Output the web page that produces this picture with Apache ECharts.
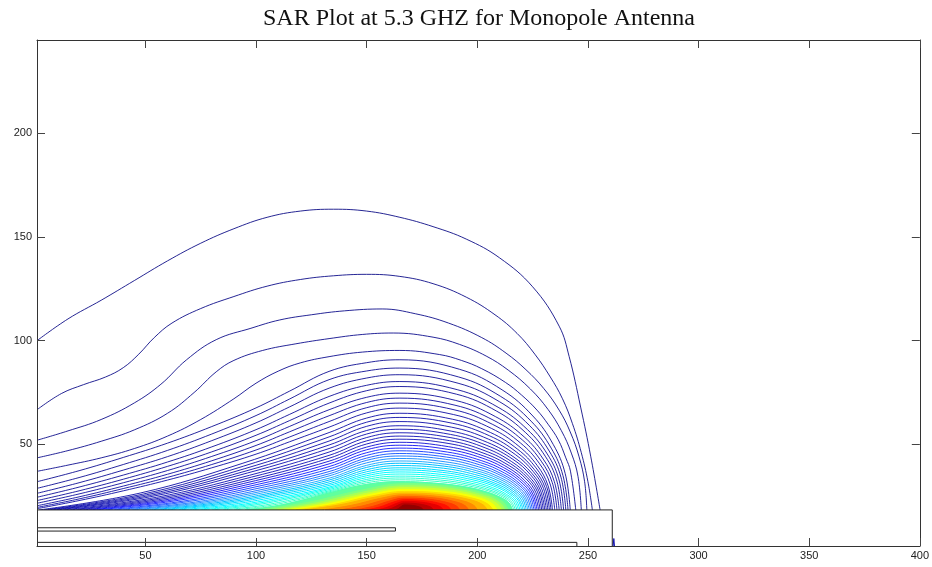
<!DOCTYPE html>
<html><head><meta charset="utf-8">
<script src="https://cdn.jsdelivr.net/npm/echarts@6/dist/echarts.min.js"></script>
<style>html,body{margin:0;padding:0;background:#fff}#chart{width:932px;height:567px}</style>
</head><body><div id="chart"></div>
<script>
const chartTitle = 'SAR Plot at 5.3 GHZ for Monopole Antenna';
const xRange = [1, 400];
const yRange = [1, 245];
const xTickValues = [50, 100, 150, 200, 250, 300, 350, 400];
const yTickValues = [50, 100, 150, 200];

// contour lines, outermost (lowest level) first
const contourLines = [
 [[1,100],[15,110.5],[30,119.5],[45,129],[60,138.5],[75,147],[90,154],[105,159.5],[120,162.5],[135,163.4],[150,162.5],[165,159.5],[180,155],[195,149],[210,140],[225,126],[237,107],[241.5,92.4],[246.7,68],[251.3,44],[255.5,18.4]],
 [[1,66.7],[12,74.5],[22,78.8],[32,82.5],[40,87],[47,93.5],[54,101.5],[62,108.5],[75,115.5],[90,121.3],[105,126.3],[120,129.5],[135,131.3],[150,132],[165,131],[180,127.5],[195,121],[208,112.5],[218,103.5],[226,93.5],[233,82.5],[238.5,72],[243,60],[247,46],[250,32],[252,18.4]],
 [[1,52],[15,56.5],[30,62],[45,70],[57,79],[68.6,90.8],[82,100.5],[97.7,106],[110.7,110],[125,112.5],[140,114.4],[157,115.3],[172,113],[187,108.5],[202,101.5],[213,94],[222,86],[230,77],[237,66.5],[242,56],[246,44],[248.5,32],[249.5,18.4]],
 [[1,43.5],[15,47],[30,51.5],[45,57],[60,65],[72,75],[82,85],[90,90.5],[103,95.3],[118,98.5],[133,101],[148,103],[162,103.7],[180,101.7],[192,98.2],[204,92.6],[214,85.8],[224,76.7],[232,66.8],[238,56.6],[242.5,45.8],[245.5,34.6],[247,18.4]],
 [[1,37],[15,40],[30,43.5],[45,48],[60,54],[75,62],[90,72],[100,79.5],[110,85.3],[120,89.3],[133,92.3],[148,94.5],[165,95.3],[183,93.3],[192.8,90.5],[202,86.5],[212.7,79.9],[220,73.8],[227,66.5],[232,59.7],[236.6,52.2],[240,43.5],[242.1,37.1],[244.5,18.4]],
 [[1,32],[20,37.3],[40,43.7],[60,50.6],[80,58.6],[100,67.6],[115,75.6],[133,85.2],[150,89.4],[165,90.8],[192,86.2],[211.2,76.3],[225.1,63.7],[234.3,50],[239.7,36],[242,18.4]],
 [[1,28.8],[20,34],[40,40.3],[60,47.1],[80,55],[100,63.9],[115,71.8],[133,81.2],[150,85.4],[165,86.8],[191.6,82.5],[210.6,73.1],[224.3,61.2],[233.4,48.2],[238.7,35],[241,18.4]],
 [[1,26.4],[20,31.5],[40,37.6],[60,44.1],[80,51.8],[100,60.4],[115,68],[133,77.1],[150,82],[165,83.6],[191.3,79.5],[210,70.6],[223.5,59.2],[232.5,46.8],[237.8,34.2],[240,18.4]],
 [[1,24.5],[20,29.4],[40,35.2],[60,41.5],[80,48.8],[100,57.1],[115,64.4],[133,73.1],[150,78.5],[165,80.3],[190.9,76.4],[209.4,67.9],[222.7,57.1],[231.6,45.4],[236.8,33.4],[239,18.4]],
 [[1,22.9],[20,27.6],[40,33.2],[60,39.4],[80,46.4],[100,54.4],[115,61.4],[133,69.9],[150,75.9],[165,77.9],[190.6,74.2],[208.8,66],[221.9,55.6],[230.7,44.3],[235.8,32.9],[238,18.4]],
 [[1,21.6],[20,26.1],[40,31.5],[60,37.4],[80,44.2],[100,51.8],[115,58.6],[133,66.7],[150,72.7],[165,74.7],[190.2,71.2],[208.2,63.4],[221.2,53.6],[229.8,42.9],[234.8,32.1],[237,18.4]],
 [[1,20.4],[20,24.7],[40,29.9],[60,35.6],[80,42.1],[100,49.5],[115,56],[133,63.8],[150,70.2],[165,72.3],[189.9,68.9],[207.6,61.5],[220.4,52.1],[228.9,41.9],[233.9,31.5],[236,18.4]],
 [[1,19.6],[20,23.7],[40,28.7],[60,34.1],[80,40.3],[100,47.3],[115,53.5],[133,61],[150,67.7],[165,69.9],[189.5,66.7],[207,59.6],[219.6,50.6],[228,40.9],[232.9,30.9],[235,18.4]],
 [[1,19],[20,22.9],[40,27.6],[60,32.8],[80,38.7],[100,45.3],[115,51.2],[133,58.3],[150,65.2],[165,67.5],[189.2,64.4],[206.4,57.7],[218.8,49.1],[227.1,39.8],[231.9,30.3],[234,18.4]],
 [[2,18.4],[47.9,26.6],[93.7,40.8],[133,55.7],[150,62.7],[165,65],[188.9,62.1],[206,55.7],[218.3,47.6],[226.5,38.7],[231.3,29.7],[233.3,18.4]],
 [[4,18.4],[49.2,26.1],[94.3,39.5],[133,53.6],[150,60.7],[165,63],[188.7,60.2],[205.6,54.1],[217.7,46.3],[225.8,37.8],[230.6,29.2],[232.6,18.4]],
 [[6,18.4],[50.5,25.7],[94.9,38.3],[133,51.6],[150,58.7],[165,61],[188.4,58.3],[205.1,52.5],[217.2,45.1],[225.2,37],[229.9,28.8],[231.9,18.4]],
 [[8,18.4],[51.8,25.3],[95.5,37.2],[133,49.7],[150,56.7],[165,59],[188.2,56.4],[204.7,50.9],[216.6,43.8],[224.6,36.1],[229.2,28.3],[231.2,18.4]],
 [[10,18.4],[53,24.9],[96.1,36.2],[133,48],[150,55],[165,57.3],[187.9,54.8],[204.3,49.5],[216.1,42.8],[224,35.4],[228.5,27.9],[230.5,18.4]],
 [[13,18.4],[55,24.5],[97,35.1],[133,46.3],[150,53.3],[165,55.6],[187.7,53.3],[203.9,48.2],[215.5,41.7],[223.3,34.6],[227.9,27.4],[229.8,18.4]],
 [[16,18.4],[57,24.2],[97.9,34.2],[133,44.7],[150,51.7],[165,54],[187.4,51.8],[203.5,46.9],[215,40.7],[222.7,33.9],[227.2,27.1],[229.1,18.4]],
 [[19,18.4],[58.9,23.9],[98.8,33.3],[133,43.3],[150,50.2],[165,52.5],[187.2,50.4],[203,45.7],[214.5,39.7],[222.1,33.3],[226.5,26.7],[228.4,18.4]],
 [[22,18.4],[60.9,23.6],[99.7,32.5],[133,41.9],[150,48.7],[165,51],[186.9,48.9],[202.6,44.5],[213.9,38.8],[221.4,32.6],[225.8,26.3],[227.7,18.4]],
 [[25,18.4],[62.8,23.3],[100.6,31.7],[133,40.6],[150,47.4],[165,49.6],[186.7,47.6],[202.2,43.4],[213.4,37.9],[220.8,32],[225.1,26],[227,18.4]],
 [[28,18.4],[64.8,23],[101.5,30.9],[133,39.3],[150,46],[165,48.2],[186.5,46.3],[201.8,42.2],[212.8,37.1],[220.2,31.4],[224.5,25.6],[226.3,18.4]],
 [[32,18.4],[67.4,22.7],[102.7,30.2],[133,38.1],[150,44.7],[165,46.9],[186.2,45.1],[201.4,41.2],[212.3,36.2],[219.5,30.8],[223.8,25.3],[225.6,18.4]],
 [[36,18.4],[70,22.5],[103.9,29.5],[133,36.9],[150,43.4],[165,45.6],[186,43.9],[200.9,40.2],[211.7,35.4],[218.9,30.3],[223.1,25],[224.9,18.4]],
 [[40,18.4],[72.6,22.2],[105.1,28.8],[133,35.8],[150,42.3],[165,44.4],[185.7,42.8],[200.5,39.2],[211.2,34.7],[218.3,29.7],[222.4,24.7],[224.2,18.4]],
 [[44,18.4],[75.2,22],[106.3,28.2],[133,34.8],[150,41.1],[165,43.2],[185.5,41.6],[200.1,38.2],[210.6,33.9],[217.7,29.2],[221.7,24.4],[223.5,18.4]],
 [[48,18.4],[77.8,21.8],[107.5,27.6],[133,33.7],[150,39.9],[165,42],[185.2,40.5],[199.7,37.3],[210.1,33.2],[217,28.7],[221.1,24.1],[222.8,18.4]],
 [[52,18.4],[80.4,21.6],[108.7,27],[133,32.8],[150,38.9],[165,40.9],[185,39.5],[199.3,36.4],[209.5,32.5],[216.4,28.2],[220.4,23.9],[222.1,18.4]],
 [[56,18.4],[83,21.4],[109.9,26.5],[133,31.9],[150,37.8],[165,39.8],[184.7,38.5],[198.8,35.5],[209,31.8],[215.8,27.7],[219.7,23.6],[221.4,18.4]],
 [[60,18.4],[85.6,21.2],[111.1,26],[133,31],[150,36.8],[165,38.7],[184.5,37.4],[198.4,34.6],[208.4,31.1],[215.1,27.3],[219,23.3],[220.7,18.4]],
 [[65,18.4],[88.8,21],[112.6,25.5],[133,30.2],[150,35.8],[165,37.7],[184.3,36.5],[198,33.8],[207.9,30.5],[214.5,26.8],[218.4,23.1],[220,18.4]],
 [[70,18.4],[92,20.8],[114.1,25],[133,29.4],[150,34.9],[165,36.7],[184,35.5],[197.6,33],[207.4,29.9],[213.9,26.4],[217.7,22.8],[219.3,18.4]],
 [[75,18.4],[95.3,20.7],[115.6,24.6],[133,28.8],[150,34],[165,35.7],[183.8,34.6],[197.2,32.2],[206.8,29.2],[213.2,25.9],[217,22.6],[218.6,18.4]],
 [[80,18.4],[98.6,20.6],[117.1,24.3],[133,28.2],[150,33.1],[165,34.7],[183.5,33.7],[196.7,31.4],[206.3,28.6],[212.6,25.5],[216.3,22.4],[217.9,18.4]],
 [[85,18.4],[101.8,20.4],[118.6,23.9],[133,27.6],[150,32.3],[165,33.8],[183.3,32.8],[196.3,30.7],[205.7,28],[212,25.1],[215.6,22.1],[217.2,18.4]],
 [[90,18.4],[105,20.3],[120.1,23.6],[133,27.1],[150,31.5],[165,32.9],[183,32],[195.9,30],[205.2,27.5],[211.4,24.7],[215,21.9],[216.5,18.4]],
 [[95,18.4],[108.3,20.2],[121.6,23.3],[133,26.6],[150,30.7],[165,32],[182.8,31.1],[195.5,29.3],[204.6,26.9],[210.7,24.3],[214.3,21.7],[215.8,18.4]]
];

// densely packed hot-spot levels (green -> dark red), outermost first
const coreBands = [
 [[95,18.4],[108.3,20.2],[121.6,23.3],[133,26.6],[150,30.7],[165,32],[182.8,31.1],[195.5,29.3],[204.6,26.9],[210.7,24.3],[214.3,21.7],[215.8,18.4]],
 [[101,18.4],[124.1,22.2],[147.2,27.85],[167,31],[188.2,29.75],[204.6,25.95],[211.7,22.2],[214,18.4]],
 [[106,18.4],[127.4,21.9],[148.7,27.1],[167,30],[187.5,28.85],[203.4,25.35],[210.2,21.9],[212.5,18.4]],
 [[110,18.4],[130,21.6],[149.9,26.4],[167,29.1],[186.8,28.05],[202.2,24.8],[208.8,21.6],[211,18.4]],
 [[114,18.4],[132.6,21.35],[151.1,25.75],[167,28.2],[185.9,27.2],[200.6,24.3],[206.9,21.35],[209,18.4]],
 [[118,18.4],[135.2,21.05],[152.3,25.1],[167,27.3],[185,26.4],[199,23.75],[205,21.05],[207,18.4]],
 [[122,18.4],[137.8,20.85],[153.5,24.5],[167,26.5],[183.9,25.7],[197,23.25],[202.6,20.85],[204.5,18.4]],
 [[130,18.4],[143,20.6],[155.9,23.9],[167,25.7],[181.9,24.95],[193.4,22.8],[198.4,20.6],[200,18.4]],
 [[138,18.4],[148.2,20.35],[158.3,23.3],[167,24.9],[180.1,24.25],[190.2,22.3],[194.6,20.35],[196,18.4]],
 [[145,18.4],[152.7,20.1],[160.4,22.7],[167,24.1],[178.3,23.5],[187,21.8],[190.8,20.1],[192,18.4]],
 [[150,18.4],[156,19.85],[161.9,22.1],[167,23.3],[176.5,22.8],[183.8,21.35],[187,19.85],[188,18.4]],
 [[155,18.4],[159.2,19.65],[163.4,21.5],[167,22.5],[174.9,22.1],[181,20.85],[183.6,19.65],[184.5,18.4]],
 [[159,18.4],[161.8,19.4],[164.6,20.9],[167,21.7],[172.9,21.35],[177.4,20.4],[179.4,19.4],[180,18.4]],
 [[163,18.4],[164.4,19.1],[165.8,20.2],[167,20.8],[170.8,20.55],[173.8,19.85],[175.1,19.1],[175.5,18.4]]
];

const substrateOutline = [[1,18.4],[261,18.4],[261,1]];
const feedStrip = [[1,9.8],[163,9.8],[163,8.2],[1,8.2]];
const groundStrip = [[1,2.75],[245,2.75],[245,1]];
const edgeSpike = [[261.4,1],[261.7,4.6],[262,1]];

function jet(t) {
  const c = v => Math.round(255 * Math.max(0, Math.min(1, 1.5 - Math.abs(4 * t - v))));
  return 'rgb(' + c(3) + ',' + c(2) + ',' + c(1) + ')';
}
function lineT(k) { // k: 1-based index
  if (k <= 22) return 0.05 * (k - 1) / 21;
  if (k <= 30) return 0.08 + (k - 23) * 0.2 / 7;
  return 0.31 + (k - 31) * 0.14 / 9;
}
function bandT(i) { return i === 0 ? 0.47 : 0.5 + (i - 1) * 0.04; }

const series = [];
coreBands.forEach((band, i) => {
  const col = jet(bandT(i));
  series.push({
    type: 'line', data: band, smooth: 0.4, symbol: 'none', silent: true, z: 2,
    lineStyle: { color: col, width: 1 },
    areaStyle: { color: col, opacity: 1 }
  });
});
contourLines.forEach((ln, i) => {
  series.push({
    type: 'line', data: ln, smooth: 0.4, symbol: 'none', silent: true, z: 3,
    lineStyle: { color: jet(lineT(i + 1)), width: 1, opacity: i < 30 ? 0.85 : 1 }
  });
});
series.push({
  type: 'line', data: [substrateOutline[0], substrateOutline[1]], symbol: 'none', silent: true, z: 4,
  lineStyle: { width: 0, color: '#fff' }, areaStyle: { color: '#fff', opacity: 1 }
});
[substrateOutline, feedStrip, groundStrip].forEach(d => {
  series.push({
    type: 'line', data: d, symbol: 'none', silent: true, z: 5,
    lineStyle: { color: '#222', width: 1 }
  });
});
series.push({
  type: 'line', data: edgeSpike, symbol: 'none', silent: true, z: 5,
  lineStyle: { color: '#1010b0', width: 1 }
});

const labelFont = 'Liberation Sans, Arial, Helvetica, sans-serif';
function makeX(pos, showLabel) {
  return {
    type: 'value', min: xRange[0], max: xRange[1], position: pos, z: 10,
    axisLine: { show: true, onZero: false, lineStyle: { color: '#333', width: 1 } },
    axisTick: { show: true, inside: true, length: 8, customValues: xTickValues, lineStyle: { color: '#444' } },
    axisLabel: { show: showLabel, customValues: xTickValues, fontSize: 11, color: '#222', margin: 4, fontFamily: labelFont },
    splitLine: { show: false }
  };
}
function makeY(pos, showLabel) {
  return {
    type: 'value', min: yRange[0], max: yRange[1], position: pos, z: 10,
    axisLine: { show: true, onZero: false, lineStyle: { color: '#333', width: 1 } },
    axisTick: { show: true, inside: true, length: 8, customValues: yTickValues, lineStyle: { color: '#444' } },
    axisLabel: { show: showLabel, customValues: yTickValues, fontSize: 11, color: '#222', margin: 5, fontFamily: labelFont },
    splitLine: { show: false }
  };
}

const chart = echarts.init(document.getElementById('chart'), null, { renderer: 'canvas' });
chart.setOption({
  animation: false,
  backgroundColor: '#fff',
  title: {
    text: chartTitle, left: 479, top: 7, padding: 0, textAlign: 'center',
    textStyle: { fontFamily: 'Liberation Serif, Times New Roman, serif', fontSize: 24, fontWeight: 'normal', color: '#111' }
  },
  grid: { left: 37, right: 10, top: 40, bottom: 21, containLabel: false },
  xAxis: [makeX('bottom', true), makeX('top', false)],
  yAxis: [makeY('left', true), makeY('right', false)],
  series: series
});
</script>
</body></html>
